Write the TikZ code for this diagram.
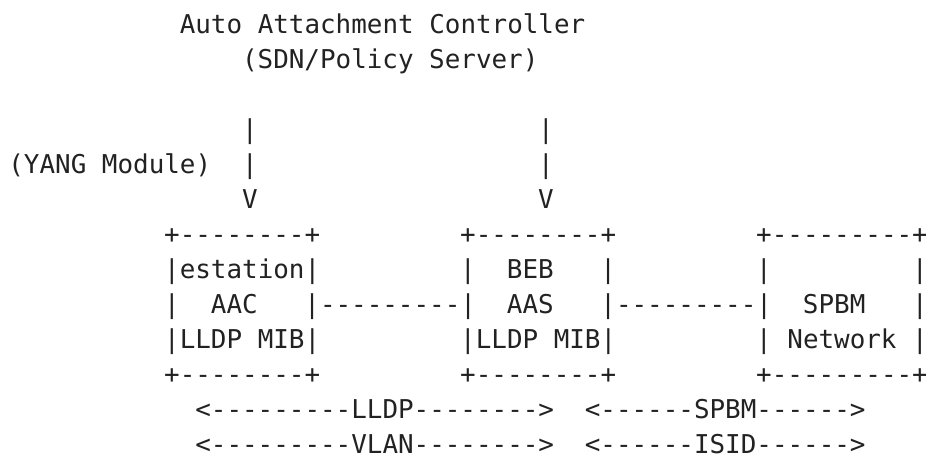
\documentclass[tikz,border=0pt]{standalone}
\usepackage{fontspec}
\newfontfamily\asciimono{DejaVu Sans Mono}[Ligatures=TeXOff]
\definecolor{ink}{HTML}{222222}
\tikzset{
  txt/.style={anchor=base west, inner sep=0pt, outer sep=0pt, text=ink,
    font=\asciimono\fontsize{19.43pt}{23pt}\selectfont}
}
\begin{document}
\begin{tikzpicture}
\useasboundingbox[fill=white] (0,0) rectangle (694.5pt,-342.75pt);
\begin{scope}[shift={(6.3pt,-24.75pt)}, x=11.685pt, y=-26.25pt]
% title
\node[txt] (title)  at (11,0) {Auto Attachment Controller};
\node[txt] (title2) at (15,1) {(SDN/Policy Server)};
% vertical links
\node[txt] (la1) at (15,3) {|};
\node[txt] (lb1) at (34,3) {|};
\node[txt] (yang) at (0,4) {(YANG Module)};
\node[txt] (la2) at (15,4) {|};
\node[txt] (lb2) at (34,4) {|};
\node[txt] (va) at (15,5) {V};
\node[txt] (vb) at (34,5) {V};
% box tops
\node[txt] (t1) at (10,6) {+--------+};
\node[txt] (t2) at (29,6) {+--------+};
\node[txt] (t3) at (48,6) {+---------+};
% row 1 of boxes
\node[txt] (e1) at (10,7) {|estation|};
\node[txt] (b2l) at (29,7) {|};
\node[txt] (beb) at (32,7) {BEB};
\node[txt] (b2r) at (38,7) {|};
\node[txt] (b3l) at (48,7) {|};
\node[txt] (b3r) at (58,7) {|};
% row 2 of boxes
\node[txt] (c1l) at (10,8) {|};
\node[txt] (aac) at (13,8) {AAC};
\node[txt] (link12) at (19,8) {|---------|};
\node[txt] (aas) at (32,8) {AAS};
\node[txt] (link23) at (38,8) {|---------|};
\node[txt] (spbm) at (51,8) {SPBM};
\node[txt] (c3r) at (58,8) {|};
% row 3 of boxes
\node[txt] (m1) at (10,9) {|LLDP MIB|};
\node[txt] (m2) at (29,9) {|LLDP MIB|};
\node[txt] (n3l) at (48,9) {|};
\node[txt] (net) at (50,9) {Network};
\node[txt] (n3r) at (58,9) {|};
% box bottoms
\node[txt] (u1) at (10,10) {+--------+};
\node[txt] (u2) at (29,10) {+--------+};
\node[txt] (u3) at (48,10) {+---------+};
% protocol arrows
\node[txt] (lldp) at (12,11) {<---------LLDP-------->};
\node[txt] (spbmarr) at (37,11) {<------SPBM------>};
\node[txt] (vlan) at (12,12) {<---------VLAN-------->};
\node[txt] (isid) at (37,12) {<------ISID------>};
\end{scope}
\end{tikzpicture}
\end{document}
